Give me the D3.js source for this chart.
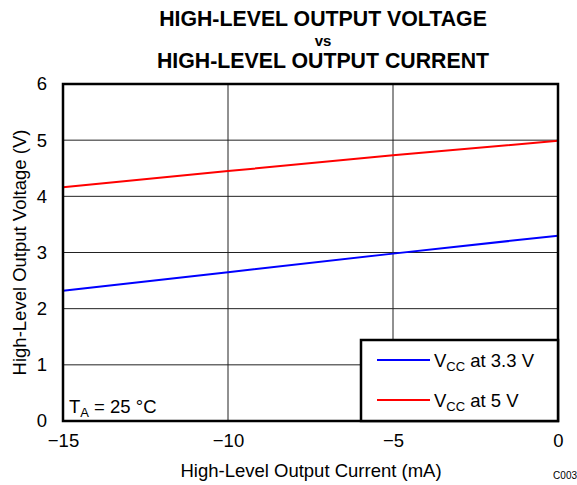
<!DOCTYPE html>
<html><head><meta charset="utf-8">
<script src="https://cdn.jsdelivr.net/npm/d3@7"></script>
<style>body{margin:0;background:#fff;} svg{display:block;font-family:"Liberation Sans",Arial,sans-serif;}</style>
</head><body>
<svg id="c" width="577" height="485"></svg>
<script>
const currents = [-15, -10, -5, 0];
const vcc33 = [2.32, 2.65, 2.98, 3.30];
const vcc5 = [4.16, 4.45, 4.73, 4.99];
const xTicks = [-15, -10, -5, 0];
const yTicks = [0, 1, 2, 3, 4, 5, 6];
const seriesNames = ["3.3 V", "5 V"];
const seriesColors = ["#0000ff", "#ff0000"];

const svg = d3.select("#c");
const L = 63, R = 558, T = 84, B = 421;
const FS = 18.5;
const x = d3.scaleLinear().domain([-15, 0]).range([L, R]);
const y = d3.scaleLinear().domain([0, 6]).range([B, T]);

// grid
svg.append("g").selectAll("line").data(yTicks.slice(1, -1)).join("line")
  .attr("x1", L).attr("x2", R).attr("y1", d => y(d)).attr("y2", d => y(d))
  .attr("stroke", "#222").attr("stroke-width", 1);
svg.append("g").selectAll("line").data(xTicks.slice(1, -1)).join("line")
  .attr("y1", T).attr("y2", B).attr("x1", d => x(d)).attr("x2", d => x(d))
  .attr("stroke", "#222").attr("stroke-width", 1);

// lines
const line = d3.line().x((d, i) => x(currents[i])).y(d => y(d));
[vcc33, vcc5].forEach((s, i) => {
  svg.append("path").attr("d", line(s)).attr("fill", "none")
    .attr("stroke", seriesColors[i]).attr("stroke-width", 2);
});

// frame
svg.append("rect").attr("x", L).attr("y", T).attr("width", R - L).attr("height", B - T)
  .attr("fill", "none").attr("stroke", "#000").attr("stroke-width", 2.5);

// axes labels
const yAxis = d3.axisLeft(y).tickValues(yTicks).tickSize(0).tickPadding(16).tickFormat(d3.format("d"));
const gy = svg.append("g").attr("transform", `translate(${L},0)`).call(yAxis);
gy.select(".domain").remove();
gy.selectAll("text").attr("font-size", FS).attr("fill", "#000").attr("font-family", "Liberation Sans, Arial, sans-serif");

const xAxis = d3.axisBottom(x).tickValues(xTicks).tickSize(0).tickPadding(13)
  .tickFormat(d => d < 0 ? "\u2212" + Math.abs(d) : String(d));
const gx = svg.append("g").attr("transform", `translate(0,${B})`).call(xAxis);
gx.select(".domain").remove();
gx.selectAll("text").attr("font-size", FS).attr("fill", "#000").attr("font-family", "Liberation Sans, Arial, sans-serif");

// titles
const title = ["HIGH-LEVEL OUTPUT VOLTAGE", "vs", "HIGH-LEVEL OUTPUT CURRENT"];
const titleY = [26, 45.5, 68];
svg.append("g").selectAll("text").data(title).join("text")
  .attr("x", 323).attr("y", (d, i) => titleY[i]).attr("text-anchor", "middle")
  .attr("font-weight", "bold").attr("font-size", (d, i) => i === 1 ? 15 : 21.3).text(d => d);

svg.append("text").attr("x", 311).attr("y", 477).attr("text-anchor", "middle")
  .attr("font-size", FS).text("High-Level Output Current (mA)");
svg.append("text").attr("transform", `translate(26,${(T + B) / 2}) rotate(-90)`)
  .attr("text-anchor", "middle").attr("font-size", FS).text("High-Level Output Voltage (V)");
svg.append("text").attr("x", 577).attr("y", 479).attr("text-anchor", "end")
  .attr("font-size", 10).text("C003");

// TA label
const ta = svg.append("text").attr("x", 69).attr("y", 413).attr("font-size", FS);
ta.append("tspan").text("T");
ta.append("tspan").attr("font-size", 13).attr("dy", 4).text("A");
ta.append("tspan").attr("dy", -4).text(" = 25 \u00B0C");

// legend
const lg = svg.append("g");
lg.append("rect").attr("x", 361).attr("y", 340).attr("width", R - 361).attr("height", B - 340)
  .attr("fill", "#fff").attr("stroke", "#000").attr("stroke-width", 2.5);
const legY = [360, 400];
seriesNames.forEach((n, i) => {
  lg.append("line").attr("x1", 377).attr("x2", 430).attr("y1", legY[i]).attr("y2", legY[i])
    .attr("stroke", seriesColors[i]).attr("stroke-width", 2);
  const t = lg.append("text").attr("x", 434).attr("y", legY[i] + 7).attr("font-size", FS);
  t.append("tspan").text("V");
  t.append("tspan").attr("font-size", 13).attr("dy", 4).text("CC");
  t.append("tspan").attr("dy", -4).text(" at " + n);
});
</script>
</body></html>
